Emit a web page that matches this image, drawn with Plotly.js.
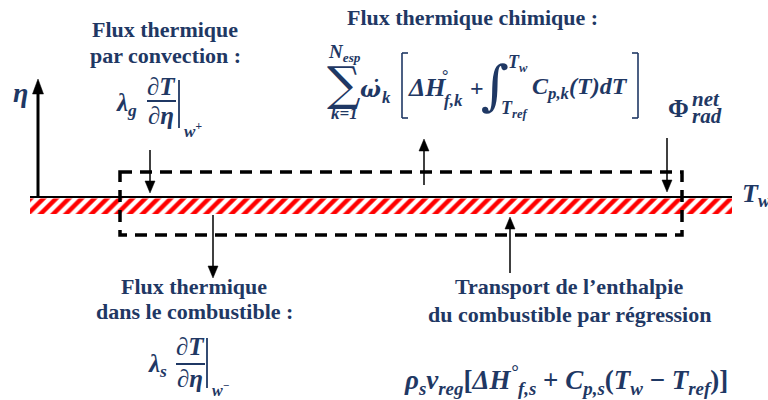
<!DOCTYPE html>
<html><head><meta charset="utf-8">
<script src="https://cdn.plot.ly/plotly-3.0.1.min.js"></script>
<style>html,body{margin:0;padding:0;background:#fff}#chart{width:768px;height:400px}</style>
</head><body><div id="chart"></div>
<script>
// ---- Content (texts) ----
const headingTexts = ["Flux thermique", "par convection :", "Flux thermique chimique :",
  "Flux thermique", "dans le combustible :", "Transport de l’enthalpie", "du combustible par régression"];
const fluxNames = ["convection", "chimique", "rayonnement", "combustible", "régression"];
const wallLabel = "T<sub>w</sub>";
const axisLabel = "η";

// ---- Geometry (diagram positions, px in a 768x400 frame) ----
const headingPos = [[165, 29], [165, 55], [472, 17], [194, 286], [194, 311], [569, 286], [569, 314]];
const arrowX = [150, 424, 667, 213, 510];
const arrowTail = [150, 185, 138, 215, 273];
const arrowTip = [193, 139, 192, 278, 217];
const wallX = [30, 732];
const wallY = 197;
const stripY = [198.5, 214];
const boxX = [120, 682];
const boxY = [172, 235];

const navy = '#1f3864';
const serif = '"Liberation Serif", "DejaVu Serif", serif';
const mathf = '"DejaVu Serif", serif';

const shapes = [];
const annotations = [];

function arrow(x, y0, y1, w, hl, hw, color) {
  const dir = y1 > y0 ? 1 : -1;
  shapes.push({type: 'line', xref: 'x', yref: 'y', x0: x, x1: x, y0: y0, y1: y1 - dir * hl * 0.8,
    line: {color: color, width: w}});
  shapes.push({type: 'path', xref: 'x', yref: 'y',
    path: `M${x - hw / 2},${y1 - dir * hl} L${x + hw / 2},${y1 - dir * hl} L${x},${y1} Z`,
    fillcolor: color, line: {color: color, width: 0.5}});
}
function line(x0, y0, x1, y1, w, color, dash) {
  shapes.push({type: 'line', xref: 'x', yref: 'y', x0, y0, x1, y1, line: {color: color || '#000', width: w, dash: dash || 'solid'}});
}
function txt(text, x, y, size, xanchor, fam) {
  annotations.push({text: text, x: x, y: y, xref: 'x', yref: 'y', showarrow: false,
    xanchor: xanchor || 'center', yanchor: 'middle', font: {family: fam || serif, size: size, color: navy}});
}
const bi = s => '<b><i>' + s + '</i></b>';

// wall line
line(wallX[0], wallY, wallX[1], wallY, 2.2, '#000');
// eta axis
arrow(38, wallY, 79, 3, 15, 11, '#000');
// dashed control box
shapes.push({type: 'rect', xref: 'x', yref: 'y', x0: boxX[0], x1: boxX[1], y0: boxY[0], y1: boxY[1],
  line: {color: '#000', width: 3.5, dash: '12px,8px'}, fillcolor: 'rgba(0,0,0,0)'});
// flux arrows
fluxNames.forEach((n, i) => arrow(arrowX[i], arrowTail[i], arrowTip[i], 1.5, 12, 10, '#000'));

// headings
headingTexts.forEach((t, i) => txt('<b>' + t + '</b>', headingPos[i][0], headingPos[i][1], 22));

// axis label, wall temperature
txt(bi(axisLabel), 20, 92, 28);
txt(bi(wallLabel), 740, 195, 26, 'left');

// convection formula
txt(bi('λ<sub>g</sub>'), 114, 104, 25, 'left');
txt(bi('∂T'), 161, 86, 25);
line(147, 101, 176, 101, 2, navy);
txt(bi('∂η'), 161, 115, 25);
line(179, 80, 179, 128, 1.8, navy);
txt(bi('w<sup>+</sup>'), 182, 130, 17, 'left');

// fuel conduction formula
txt(bi('λ<sub>s</sub>'), 146, 365, 25, 'left');
txt(bi('∂T'), 190, 346, 25);
line(176, 364, 205, 364, 2, navy);
txt(bi('∂η'), 190, 378, 25);
line(207, 338, 207, 388, 1.8, navy);
txt(bi('w<sup>−</sup>'), 210, 389, 16, 'left');

// chemical flux formula
txt(bi('N<sub>esp</sub>'), 344, 53, 19);
txt('∑', 344, 83, 47, 'center', mathf);
txt(bi('k=1'), 344, 113, 17);
txt('<b><i>ω̇</i></b>', 370, 89, 22, 'center', mathf);
txt(bi('k'), 380, 97, 17, 'left');
line(402, 53, 402, 118, 1.6, navy); line(402, 53, 408, 53, 1.6, navy); line(402, 118, 408, 118, 1.6, navy);
txt(bi('ΔH'), 406, 87, 26, 'left');
txt('<b>°</b>', 445, 75, 16);
txt(bi('f,k'), 442, 100, 17, 'left');
txt('<b>+</b>', 477, 88, 24);
txt('∫', 495, 85, 54, 'center', mathf);
txt(bi('T<sub>w</sub>'), 506, 63, 18, 'left');
txt(bi('T<sub>ref</sub>'), 499, 109, 18, 'left');
txt(bi('C<sub>p,k</sub>(T)dT'), 530, 88, 24, 'left');
line(638, 53, 638, 118, 1.6, navy); line(632, 53, 638, 53, 1.6, navy); line(632, 118, 638, 118, 1.6, navy);

// radiative flux
txt('<b>Φ</b>', 666, 108, 25, 'left');
txt(bi('net'), 690, 99, 21, 'left');
txt(bi('rad'), 690, 116, 21, 'left');

// regression formula
txt(bi('ρ<sub>s</sub>v<sub>reg</sub>') + '<b>[</b>' + bi('ΔH<sup>°</sup><sub>f,s</sub>') + '<b> + </b>' +
  bi('C<sub>p,s</sub>') + '<b>(</b>' + bi('T<sub>w</sub>') + '<b> − </b>' + bi('T<sub>ref</sub>') + '<b>)]</b>',
  402, 380, 27, 'left');

// hatched fuel strip
const stripTrace = {
  x: [wallX[0], wallX[1], wallX[1], wallX[0]],
  y: [stripY[0], stripY[0], stripY[1], stripY[1]],
  mode: 'lines', fill: 'toself', line: {width: 0, color: 'rgba(0,0,0,0)'},
  fillcolor: 'white',
  fillpattern: {shape: '/', fgcolor: '#ff0000', bgcolor: '#ffffff', size: 9, solidity: 0.5},
  hoverinfo: 'skip', showlegend: false
};

const layout = {
  width: 768, height: 400, margin: {l: 0, r: 0, t: 0, b: 0},
  paper_bgcolor: '#fff', plot_bgcolor: '#fff', showlegend: false,
  xaxis: {range: [0, 768], visible: false, fixedrange: true},
  yaxis: {range: [400, 0], visible: false, fixedrange: true},
  shapes: shapes, annotations: annotations
};
Plotly.newPlot('chart', [stripTrace], layout, {displayModeBar: false, staticPlot: true});
</script></body></html>
